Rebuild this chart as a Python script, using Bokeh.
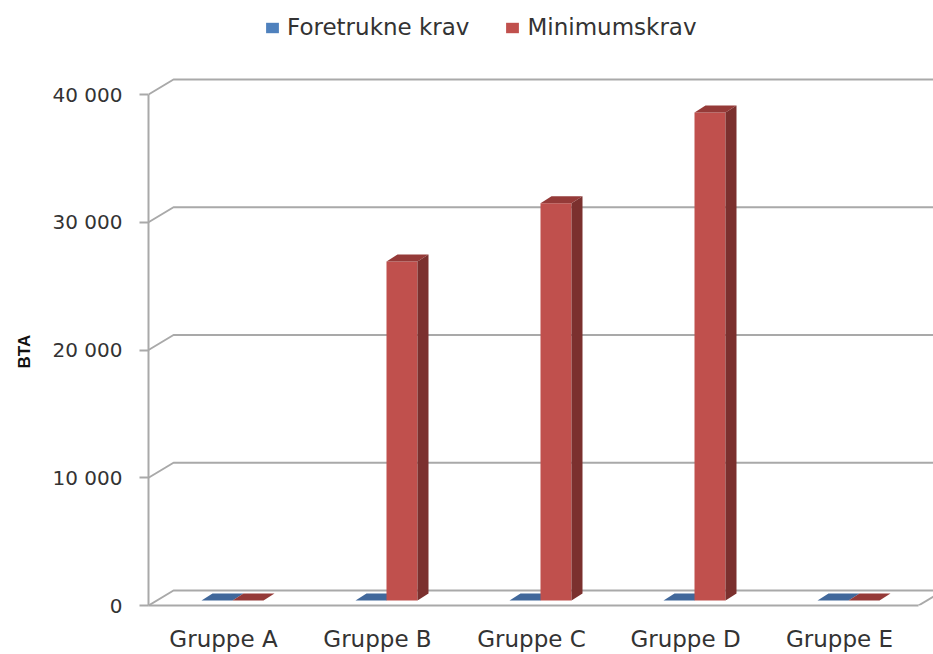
from bokeh.plotting import figure
from bokeh.models import Range1d, FixedTicker, Legend, LegendItem, Title
from bokeh.embed import file_html
from bokeh.resources import INLINE

categories = ["Gruppe A", "Gruppe B", "Gruppe C", "Gruppe D", "Gruppe E"]
foretrukne = [0, 0, 0, 0, 0]
minimum = [0, 26540, 31100, 38200, 0]
y_ticks = [0, 10000, 20000, 30000, 40000]
y_tick_labels = ["0", "10 000", "20 000", "30 000", "40 000"]

W, H = 933, 654
LEFT, BOTTOM = 148, 49
PX_X = 154.0           # px per category
PX_Y = 511 / 40000     # px per value unit
FONT = "DejaVu Sans"
TEXT = "#333333"
GRID = "#A9A9A9"


def dx(px):
    return px / PX_X


def dy(px):
    return px / PX_Y


p = figure(width=W, height=H, output_backend="svg", toolbar_location=None,
           min_border_left=LEFT, min_border_bottom=BOTTOM, min_border_top=0, min_border_right=0,
           x_range=Range1d(0, (W - LEFT) / PX_X), y_range=Range1d(0, (H - BOTTOM) / PX_Y))
p.outline_line_color = None
p.background_fill_color = "white"
p.xgrid.visible = False
p.ygrid.visible = False

# Walls: diagonal and back grid lines
wall_x, wall_y = dx(25), dy(15)
x_end = (W - LEFT) / PX_X + 1
p.multi_line([[0, wall_x, x_end] for _ in y_ticks],
             [[v, v + wall_y, v + wall_y] for v in y_ticks],
             line_color=GRID, line_width=2)
# right edge of the floor
n = len(categories)
p.line([n, n + wall_x], [0, wall_y], line_color=GRID, line_width=2)

# Bars
BAR_W = dx(31)
OFFS = dx(7)
BASE = dy(5)
DEPTH_X, DEPTH_Y = dx(11), dy(7)


def bars(values, left_offset, front, top, side):
    xs = [i + 0.5 + left_offset for i in range(len(values))]
    right = [x + BAR_W for x in xs]
    ys = [BASE + v for v in values]
    r = p.quad(left=xs, right=right, bottom=[BASE] * len(values), top=ys,
               fill_color=front, line_color=None)
    p.patches([[a, b, b + DEPTH_X, a + DEPTH_X] for a, b in zip(xs, right)],
              [[y, y, y + DEPTH_Y, y + DEPTH_Y] for y in ys],
              fill_color=top, line_color=None)
    p.patches([[b, b + DEPTH_X, b + DEPTH_X, b] for b in right],
              [[BASE, BASE + DEPTH_Y, y + DEPTH_Y, y] for y in ys],
              fill_color=side, line_color=None)
    return r


r_blue = bars(foretrukne, OFFS - BAR_W, "#4F81BD", "#41689B", "#30527C")
r_red = bars(minimum, OFFS, "#C0504D", "#953A38", "#7B302E")

# Axes
ax = p.yaxis[0]
ax.ticker = FixedTicker(ticks=y_ticks)
ax.major_label_overrides = dict(zip(y_ticks, y_tick_labels))
ax.bounds = (0, 40000)
ax.axis_line_color = GRID
ax.axis_line_width = 2
ax.major_tick_line_color = GRID
ax.major_tick_line_width = 2
ax.major_tick_out = 9
ax.major_tick_in = 0
ax.minor_tick_line_color = None
ax.major_label_text_font = FONT
ax.major_label_text_font_size = "20px"
ax.major_label_text_color = TEXT
ax.major_label_standoff = 17

bx = p.xaxis[0]
ticks = [i + 0.5 - dx(2) for i in range(n)]
bx.ticker = FixedTicker(ticks=ticks)
bx.major_label_overrides = dict(zip(ticks, categories))
bx.bounds = (-dx(9), n)
bx.axis_line_color = GRID
bx.axis_line_width = 2
bx.major_tick_line_color = None
bx.minor_tick_line_color = None
bx.major_tick_out = 0
bx.major_tick_in = 0
bx.major_label_text_font = FONT
bx.major_label_text_font_size = "23px"
bx.major_label_text_color = TEXT
bx.major_label_standoff = 20

# Axis title, placed along the axis by its offset from the frame's bottom
p.add_layout(Title(text="BTA", align="left", offset=237, standoff=28, vertical_align="top",
                   text_font="Liberation Sans", text_font_style="bold", text_font_size="17px",
                   text_color="#111111"), "left")

# Legend
leg = Legend(items=[LegendItem(label="Foretrukne krav", renderers=[r_blue]),
                    LegendItem(label="Minimumskrav", renderers=[r_red])],
             orientation="horizontal", location=(116, 565),
             background_fill_alpha=0, border_line_color=None,
             glyph_width=16, glyph_height=13, spacing=35, label_standoff=7,
             label_text_font=FONT, label_text_font_size="23px", label_text_color=TEXT,
             margin=0, padding=0)
p.add_layout(leg, "center")

open("out.html", "w").write(file_html(p, INLINE))
